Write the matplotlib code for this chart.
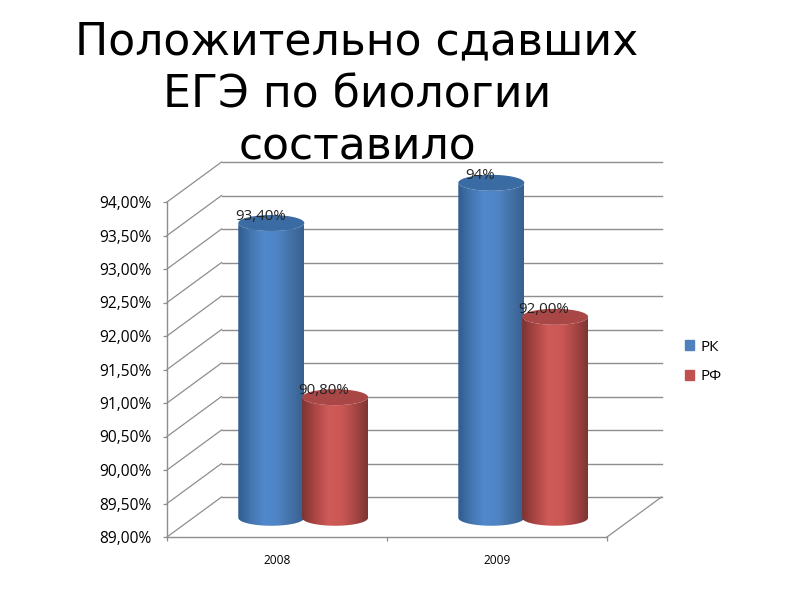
import matplotlib
matplotlib.use('Agg')
import matplotlib.pyplot as plt
from matplotlib.colors import LinearSegmentedColormap
from matplotlib.patches import Patch, PathPatch
from matplotlib.path import Path
import numpy as np

title = 'Положительно сдавших\nЕГЭ по биологии\nсоставило'
years = ['2008', '2009']
series_names = ['РК', 'РФ']
rk_values = [93.4, 94.0]
rf_values = [90.8, 92.0]
rk_labels = ['93,40%', '94%']
rf_labels = ['90,80%', '92,00%']
y_ticks = [89.0, 89.5, 90.0, 90.5, 91.0, 91.5, 92.0, 92.5, 93.0, 93.5, 94.0]

Y_BASE = 89.0
# depth of the fake 3d box, in data units
DEPTH_X = 0.248
DEPTH_Y = 0.597
BAR_DEPTH = 0.48
HALF_W = 0.15
RY = 0.119
GRID = '#8e8e8e'

blue_cmap = LinearSegmentedColormap.from_list('b', ['#2f5c90', '#4576b0', '#5089cd', '#4f84c4', '#4472a8', '#37608f'])
red_cmap = LinearSegmentedColormap.from_list('r', ['#7f3331', '#ab4644', '#cf5b59', '#cc5856', '#a94745', '#7d3533'])
blue_top = '#3b6ba3'
red_top = '#a84745'


def cylinder(ax, xc, value, cmap, top_color):
    cx = xc + DEPTH_X * BAR_DEPTH
    y0 = Y_BASE + DEPTH_Y * BAR_DEPTH
    y1 = value + DEPTH_Y * BAR_DEPTH
    t = np.linspace(np.pi, 2 * np.pi, 40)
    xs = cx + HALF_W * np.cos(t)
    ys = y0 + RY * np.sin(t)
    body = np.vstack([np.column_stack([xs, ys]),
                      [[cx + HALF_W, y1]],
                      np.column_stack([xs[::-1], y1 + RY * np.sin(t[::-1])]),
                      [[cx - HALF_W, y0]]])
    patch = PathPatch(Path(body), fc='none', ec='none', zorder=3, clip_on=False)
    ax.add_patch(patch)
    grad = np.linspace(0, 1, 128).reshape(1, -1)
    im = ax.imshow(grad, cmap=cmap, aspect='auto', zorder=3,
                   extent=[cx - HALF_W, cx + HALF_W, y0 - RY, y1 + RY])
    im.set_clip_path(patch)
    # the top of the tallest bar sticks out of the axes box
    im.set_clip_box(ax.figure.bbox)
    # top cap
    t2 = np.linspace(0, 2 * np.pi, 80)
    ax.fill(cx + HALF_W * np.cos(t2), y1 + RY * np.sin(t2), color=top_color, lw=0, zorder=4, clip_on=False)
    return cx, y1


fig = plt.figure(figsize=(8, 6), dpi=100, facecolor='white')
ax = fig.add_axes([167 / 800, 63 / 600, 440 / 800, 335 / 600])

# back wall + side wall grid
for v in y_ticks:
    ax.plot([0, DEPTH_X], [v, v + DEPTH_Y], color=GRID, lw=0.9, clip_on=False, zorder=1)
    ax.plot([DEPTH_X, 2 + DEPTH_X], [v + DEPTH_Y, v + DEPTH_Y], color=GRID, lw=1.0, clip_on=False, zorder=1)
ax.plot([2, 2 + DEPTH_X], [Y_BASE, Y_BASE + DEPTH_Y], color=GRID, lw=0.9, clip_on=False, zorder=1)

labels_pos = []
for i in range(len(years)):
    labels_pos.append((cylinder(ax, i + 0.5 - 0.145, rk_values[i], blue_cmap, blue_top), rk_labels[i]))
    labels_pos.append((cylinder(ax, i + 0.5 + 0.145, rf_values[i], red_cmap, red_top), rf_labels[i]))

for (pos, txt) in labels_pos:
    ax.annotate(txt, pos, xytext=(-11, 7), textcoords='offset pixels', ha='center', va='center',
                fontsize=10.8, family='Open Sans', color='#222222', zorder=6, annotation_clip=False)

ax.set_xlim(0, 2)
ax.set_ylim(Y_BASE, 94.0)
ax.patch.set_alpha(0)
ax.set_yticks(y_ticks)
ax.set_yticklabels([('%.2f%%' % v).replace('.', ',') for v in y_ticks], family='Open Sans', fontsize=11.2)
ax.set_xticks([0, 1, 2])
ax.set_xticklabels([])
ax.set_xticks([0.5, 1.5], minor=True)
ax.set_xticklabels(years, minor=True, family='Open Sans', fontsize=8.6)
ax.tick_params(axis='x', which='minor', length=0, pad=12)
ax.tick_params(axis='x', which='major', length=3, color=GRID, width=0.9)
ax.tick_params(axis='y', length=3, color=GRID, width=0.9, pad=8)
for side in ['top', 'right']:
    ax.spines[side].set_visible(False)
for side in ['left', 'bottom']:
    ax.spines[side].set_color(GRID)
    ax.spines[side].set_linewidth(1.0)

handles = [Patch(color='#4f81bd'), Patch(color='#c0504d')]
ax.legend(handles, series_names, loc='center left', bbox_to_anchor=(671 / 800, 1 - 362 / 600),
          bbox_transform=fig.transFigure, frameon=False, handlelength=0.62, handleheight=0.62,
          labelspacing=0.95, handletextpad=0.4, prop={'family': 'Open Sans', 'size': 11})

fig.text(357 / 800, 1 - 94.5 / 600, title, ha='center', va='center', fontsize=31.8, family='DejaVu Sans',
         linespacing=1.28, color='black', zorder=10)

fig.savefig('out.png', dpi=100)
